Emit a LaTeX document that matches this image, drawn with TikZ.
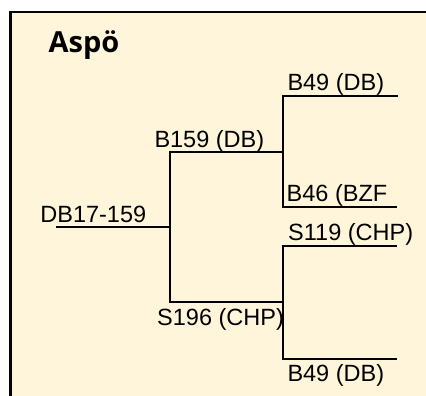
\documentclass[tikz,border=0pt]{standalone}
\usepackage{fontspec}
\setmainfont{Liberation Sans}
\newfontfamily\titlefont{Open Sans}
\definecolor{cream}{RGB}{255,245,218}
\begin{document}
\begin{tikzpicture}[x=1pt,y=-1pt,
  lbl/.style={anchor=base west,inner sep=0pt,font=\fontsize{23.5}{26}\selectfont},
  conn/.style={line width=2pt,draw=black,line cap=rect},
  frame/.style={fill=cream,draw=black,line width=2.6pt}]
\useasboundingbox (0,0) rectangle (426,396);
\clip (0,0) rectangle (426,396);
\draw[frame] (10.5,12) rectangle (445,420);
\node[anchor=base west,inner sep=0pt,font=\titlefont\bfseries\fontsize{29}{32}\selectfont] (title) at (48.5,53) {Aspö};
% junction coordinates
\coordinate (r0) at (57,227);
\coordinate (r1) at (170,227);
\coordinate (a0) at (170,152);
\coordinate (a1) at (283,152);
\coordinate (b0) at (170,302);
\coordinate (b1) at (283,302);
\coordinate (a2) at (283,96);
\coordinate (a3) at (397,96);
\coordinate (a4) at (283,207);
\coordinate (a5) at (396,207);
\coordinate (b2) at (283,246);
\coordinate (b3) at (396,246);
\coordinate (b4) at (283,359);
\coordinate (b5) at (396,359);
\draw[conn] (r0) -- (r1);
\draw[conn] (a0) -- (b0);
\draw[conn] (a0) -- (a1);
\draw[conn] (b0) -- (b1);
\draw[conn] (a2) -- (a4);
\draw[conn] (a2) -- (a3);
\draw[conn] (a4) -- (a5);
\draw[conn] (b2) -- (b4);
\draw[conn] (b2) -- (b3);
\draw[conn] (b4) -- (b5);
% labels
\node[lbl] (root) at (40.2,222) {DB17-159};
\node[lbl] (n159) at (154.3,147) {B159 (DB)};
\node[lbl] (n196) at (157,325.5) {S196 (CHP)};
\node[lbl] (n49a) at (287.3,90.5) {B49 (DB)};
\node[lbl] (n46) at (286.5,201) {B46 (BZF};
\node[lbl] (n119) at (288,240) {S119 (CHP)};
\node[lbl] (n49b) at (287.3,381.5) {B49 (DB)};
\end{tikzpicture}
\end{document}
